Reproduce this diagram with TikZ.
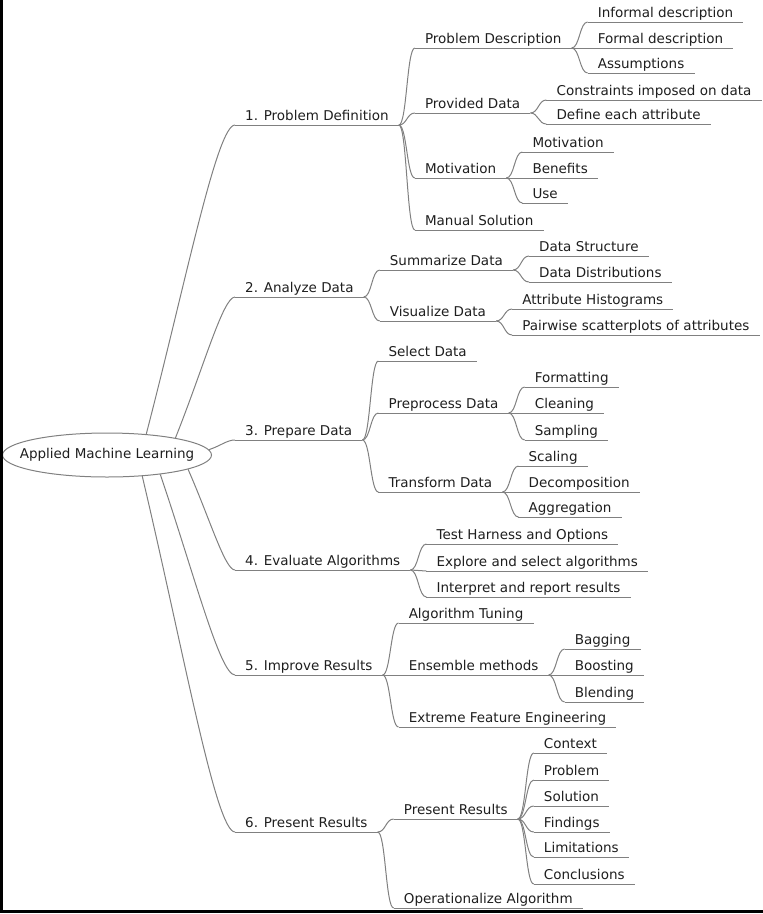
\documentclass[tikz,border=0pt]{standalone}
\usepackage{fontspec}
\setmainfont{DejaVu Sans}
\usepackage{tikz}
\usetikzlibrary{shapes.geometric}
\definecolor{edgegray}{RGB}{128,128,128}
\definecolor{textgray}{RGB}{30,30,30}

\begin{document}
\begin{tikzpicture}[x=1pt, y=-1pt, font=\fontsize{13.5}{16}\selectfont, text=textgray,
  main node/.style={ellipse, draw=edgegray, line width=1pt, minimum width=209pt, minimum height=44pt, inner sep=0pt},
  sub node/.style={anchor=south west, inner xsep=10pt, inner ysep=4.5pt, text depth=0pt,
    append after command={(\tikzlastnode.south west) edge[uline] (\tikzlastnode.south east)}},
  uline/.style={draw=edgegray, line width=1pt},
  stem/.style={draw=edgegray, line width=1pt},
  branch/.style={draw=edgegray, line width=1pt, to path={.. controls +(8,0) and +(-8,0) .. (\tikztotarget)}}]
\useasboundingbox (0,0) rectangle (763,914);

\node[main node] (root) at (107,455) {\makebox[0pt]{Applied Machine Learning}};

% first level
\node[sub node] (1) at (235,125) {1. Problem Definition};
\node[sub node] (2) at (235,297) {2. Analyze Data};
\node[sub node] (3) at (235,440) {3. Prepare Data};
\node[sub node] (4) at (235,570) {4. Evaluate Algorithms};
\node[sub node] (5) at (235,675) {5. Improve Results};
\node[sub node] (6) at (235,832) {6. Present Results};

\draw[stem] (root.28) .. controls +(40,-154) and +(-18,0) .. (1.south west);
\draw[stem] (root.14) .. controls +(28,-70) and +(-12,0) .. (2.south west);
\draw[stem] (root.3) .. controls +(12,-4) and +(-8,0) .. (3.south west);
\draw[stem] (root.-10) .. controls +(22,50) and +(-10,0) .. (4.south west);
\draw[stem] (root.-20) .. controls +(34,100) and +(-15,0) .. (5.south west);
\draw[stem] (root.-31) .. controls +(42,178) and +(-19,0) .. (6.south west);

% 1
\node[sub node] (11) at ([shift={(16,-77)}]1.south east) {Problem Description};
\node[sub node] (12) at ([shift={(16,-12)}]1.south east) {Provided Data};
\node[sub node] (13) at ([shift={(16,53)}]1.south east) {Motivation};
\node[sub node] (14) at ([shift={(16,105)}]1.south east) {Manual Solution};
\node[sub node] (111) at ([shift={(16,-26)}]11.south east) {Informal description};
\node[sub node] (112) at ([shift={(16,0)}]11.south east) {Formal description};
\node[sub node] (113) at ([shift={(16,25)}]11.south east) {Assumptions};
\node[sub node] (121) at ([shift={(16,-13)}]12.south east) {Constraints imposed on data};
\node[sub node] (122) at ([shift={(16,11)}]12.south east) {Define each attribute};
\node[sub node] (131) at ([shift={(16,-26)}]13.south east) {Motivation};
\node[sub node] (132) at ([shift={(16,0)}]13.south east) {Benefits};
\node[sub node] (133) at ([shift={(16,25)}]13.south east) {Use};
\path (1.south east) edge[branch] (11.south west) edge[branch] (12.south west)
  edge[branch] (13.south west) edge[branch] (14.south west);
\path (11.south east) edge[branch] (111.south west) edge[branch] (112.south west) edge[branch] (113.south west);
\path (12.south east) edge[branch] (121.south west) edge[branch] (122.south west);
\path (13.south east) edge[branch] (131.south west) edge[branch] (132.south west) edge[branch] (133.south west);

% 2
\node[sub node] (21) at ([shift={(16,-27)}]2.south east) {Summarize Data};
\node[sub node] (22) at ([shift={(16,24)}]2.south east) {Visualize Data};
\node[sub node] (211) at ([shift={(16,-14)}]21.south east) {Data Structure};
\node[sub node] (212) at ([shift={(16,12)}]21.south east) {Data Distributions};
\node[sub node] (221) at ([shift={(16,-12)}]22.south east) {Attribute Histograms};
\node[sub node] (222) at ([shift={(16,14)}]22.south east) {Pairwise scatterplots of attributes};
\path (2.south east) edge[branch] (21.south west) edge[branch] (22.south west);
\path (21.south east) edge[branch] (211.south west) edge[branch] (212.south west);
\path (22.south east) edge[branch] (221.south west) edge[branch] (222.south west);

% 3
\node[sub node] (31) at ([shift={(16,-79)}]3.south east) {Select Data};
\node[sub node] (32) at ([shift={(16,-27)}]3.south east) {Preprocess Data};
\node[sub node] (33) at ([shift={(16,52)}]3.south east) {Transform Data};
\node[sub node] (321) at ([shift={(16,-26)}]32.south east) {Formatting};
\node[sub node] (322) at ([shift={(16,0)}]32.south east) {Cleaning};
\node[sub node] (323) at ([shift={(16,27)}]32.south east) {Sampling};
\node[sub node] (331) at ([shift={(16,-26)}]33.south east) {Scaling};
\node[sub node] (332) at ([shift={(16,0)}]33.south east) {Decomposition};
\node[sub node] (333) at ([shift={(16,25)}]33.south east) {Aggregation};
\path (3.south east) edge[branch] (31.south west) edge[branch] (32.south west) edge[branch] (33.south west);
\path (32.south east) edge[branch] (321.south west) edge[branch] (322.south west) edge[branch] (323.south west);
\path (33.south east) edge[branch] (331.south west) edge[branch] (332.south west) edge[branch] (333.south west);

% 4
\node[sub node] (41) at ([shift={(16,-26)}]4.south east) {Test Harness and Options};
\node[sub node] (42) at ([shift={(16,1)}]4.south east) {Explore and select algorithms};
\node[sub node] (43) at ([shift={(16,27)}]4.south east) {Interpret and report results};
\path (4.south east) edge[branch] (41.south west) edge[branch] (42.south west) edge[branch] (43.south west);

% 5
\node[sub node] (51) at ([shift={(16,-52)}]5.south east) {Algorithm Tuning};
\node[sub node] (52) at ([shift={(16,0)}]5.south east) {Ensemble methods};
\node[sub node] (53) at ([shift={(16,52)}]5.south east) {Extreme Feature Engineering};
\node[sub node] (521) at ([shift={(16,-26)}]52.south east) {Bagging};
\node[sub node] (522) at ([shift={(16,0)}]52.south east) {Boosting};
\node[sub node] (523) at ([shift={(16,27)}]52.south east) {Blending};
\path (5.south east) edge[branch] (51.south west) edge[branch] (52.south west) edge[branch] (53.south west);
\path (52.south east) edge[branch] (521.south west) edge[branch] (522.south west) edge[branch] (523.south west);

% 6
\node[sub node] (61) at ([shift={(16,-13)}]6.south east) {Present Results};
\node[sub node] (62) at ([shift={(16,76)}]6.south east) {Operationalize Algorithm};
\node[sub node] (611) at ([shift={(16,-66)}]61.south east) {Context};
\node[sub node] (612) at ([shift={(16,-39)}]61.south east) {Problem};
\node[sub node] (613) at ([shift={(16,-13)}]61.south east) {Solution};
\node[sub node] (614) at ([shift={(16,13)}]61.south east) {Findings};
\node[sub node] (615) at ([shift={(16,38)}]61.south east) {Limitations};
\node[sub node] (616) at ([shift={(16,65)}]61.south east) {Conclusions};
\path (6.south east) edge[branch] (61.south west) edge[branch] (62.south west);
\path (61.south east) edge[branch] (611.south west) edge[branch] (612.south west) edge[branch] (613.south west)
  edge[branch] (614.south west) edge[branch] (615.south west) edge[branch] (616.south west);

% frame edges of the screenshot
\draw[line width=2.5pt] (1.25,0) -- (1.25,911.5) -- (763,911.5);
\end{tikzpicture}
\end{document}
